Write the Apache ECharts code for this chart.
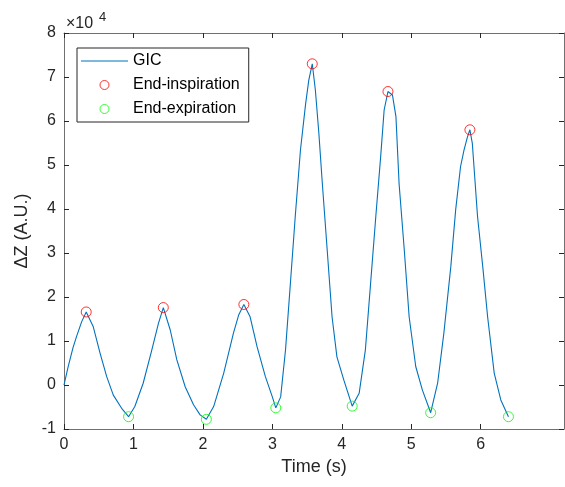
<!DOCTYPE html>
<html>
<head>
<meta charset="utf-8">
<script src="https://cdn.jsdelivr.net/npm/echarts@6/dist/echarts.min.js"></script>
<style>
html,body{margin:0;padding:0;background:#fff;}
#chart{width:565px;height:487px;}
</style>
</head>
<body>
<div id="chart"></div>
<script>
// GIC trace, time (s) and impedance change (A.U.)
const gicTime = [0.00,0.06,0.13,0.18,0.255,0.32,0.42,0.52,0.615,0.71,0.83,0.93,1.02,1.14,1.265,1.36,1.43,1.53,1.625,1.745,1.865,1.96,2.05,2.155,2.30,2.44,2.515,2.59,2.68,2.78,2.90,3.00,3.05,3.12,3.19,3.26,3.33,3.405,3.48,3.525,3.575,3.62,3.67,3.72,3.79,3.86,3.93,4.03,4.15,4.25,4.34,4.415,4.49,4.56,4.61,4.665,4.73,4.78,4.825,4.90,4.97,5.065,5.16,5.28,5.38,5.47,5.57,5.64,5.71,5.76,5.81,5.845,5.88,5.955,6.03,6.10,6.195,6.29,6.40];
const gicValue = [0,4200,8500,11000,14400,16600,13300,7200,1900,-2300,-5300,-7200,-4900,400,8000,14000,17600,12500,5700,-400,-4500,-6800,-7800,-4900,2700,11800,15900,18300,15500,8700,1900,-2700,-5200,-2700,8000,23100,38300,53400,64000,69300,73000,67000,57200,45800,30700,15500,6400,1100,-4800,-1900,8000,23100,38300,51900,62500,66700,65900,61000,45800,30700,15500,4200,-1100,-6300,400,11800,26900,39800,49600,53400,56400,58000,54900,38300,26900,15500,2700,-3400,-7200];
// End-inspiration markers
const inspTime = [0.32,1.43,2.59,3.575,4.665,5.845];
const inspValue = [16600,17600,18300,73000,66700,58000];
// End-expiration markers
const expTime = [0.93,2.05,3.05,4.15,5.28,6.40];
const expValue = [-7200,-7800,-5200,-4800,-6300,-7200];
// ticks
const xTicks = [0,1,2,3,4,5,6];
const yTicks = [-10000,0,10000,20000,30000,40000,50000,60000,70000,80000];

const FONT = '"Liberation Sans", Arial, Helvetica, sans-serif';
const TXT = '#262626';
const AX = '#707070';

const pairs = (a, b) => a.map((v, i) => [v, b[i]]);

const chart = echarts.init(document.getElementById('chart'), null, {renderer: 'canvas'});
const tickCommon = {show: true, inside: true, length: 5, lineStyle: {color: TXT, width: 1}};
chart.setOption({
  animation: false,
  backgroundColor: '#fff',
  textStyle: {fontFamily: FONT},
  grid: {left: 64, right: 1, top: 33, bottom: 58, show: false},
  xAxis: [{
    type: 'value', min: 0, max: 7.2, interval: 1,
    name: 'Time (s)', nameLocation: 'middle', nameGap: 27,
    nameTextStyle: {fontSize: 18, color: TXT, fontFamily: FONT},
    axisLine: {show: true, onZero: false, lineStyle: {color: AX, width: 1}},
    axisTick: Object.assign({customValues: xTicks}, tickCommon),
    axisLabel: {customValues: xTicks, fontSize: 16, color: TXT, margin: 8, fontFamily: FONT},
    splitLine: {show: false}
  }, {
    type: 'value', position: 'top', min: 0, max: 7.2, interval: 1,
    axisLine: {show: true, onZero: false, lineStyle: {color: AX, width: 1}},
    axisTick: Object.assign({customValues: xTicks}, tickCommon),
    axisLabel: {show: false}, splitLine: {show: false}
  }],
  yAxis: [{
    type: 'value', min: -10000, max: 80000, interval: 10000,
    name: 'ΔZ (A.U.)', nameLocation: 'middle', nameGap: 28,
    nameTextStyle: {fontSize: 18, color: TXT, fontFamily: FONT},
    axisLine: {show: true, onZero: false, lineStyle: {color: AX, width: 1}},
    axisTick: Object.assign({customValues: yTicks}, tickCommon),
    axisLabel: {customValues: yTicks, fontSize: 16, color: TXT, margin: 8, fontFamily: FONT,
      formatter: v => String(Math.round(v / 10000))},
    splitLine: {show: false}
  }, {
    type: 'value', position: 'right', min: -10000, max: 80000, interval: 10000,
    axisLine: {show: true, onZero: false, lineStyle: {color: AX, width: 1}},
    axisTick: Object.assign({customValues: yTicks}, tickCommon),
    axisLabel: {show: false}, splitLine: {show: false}
  }],
  legend: {
    show: true,
    orient: 'vertical', left: 77, top: 48,
    padding: [5, 9, 5, 4],
    itemWidth: 47, itemHeight: 9, itemGap: 8,
    borderColor: TXT, borderWidth: 1, backgroundColor: '#fff',
    itemStyle: {borderWidth: 1},
    textStyle: {fontSize: 16, color: '#000', fontFamily: FONT},
    data: [
      {name: 'GIC', icon: 'path://M0,0L47,0L47,1.2L0,1.2Z'},
      {name: 'End-inspiration'},
      {name: 'End-expiration'}
    ]
  },
  graphic: [
    {type: 'text', left: 66, top: 16, style: {text: '×10', fontSize: 16, fontFamily: FONT, fill: TXT}},
    {type: 'text', left: 99, top: 11, style: {text: '4', fontSize: 13, fontFamily: FONT, fill: TXT}}
  ],
  series: [{
    name: 'GIC', type: 'line', data: pairs(gicTime, gicValue),
    showSymbol: false, symbol: 'none',
    lineStyle: {color: '#0072BD', width: 1.1},
    itemStyle: {color: '#0072BD'}, z: 2
  }, {
    name: 'End-inspiration', type: 'scatter', data: pairs(inspTime, inspValue),
    symbol: 'circle', symbolSize: 10,
    itemStyle: {color: 'rgba(0,0,0,0)', borderColor: '#FF0000', borderWidth: 1}, z: 3
  }, {
    name: 'End-expiration', type: 'scatter', data: pairs(expTime, expValue),
    symbol: 'circle', symbolSize: 10,
    itemStyle: {color: 'rgba(0,0,0,0)', borderColor: '#00FF00', borderWidth: 1}, z: 3
  }]
});
</script>
</body>
</html>
